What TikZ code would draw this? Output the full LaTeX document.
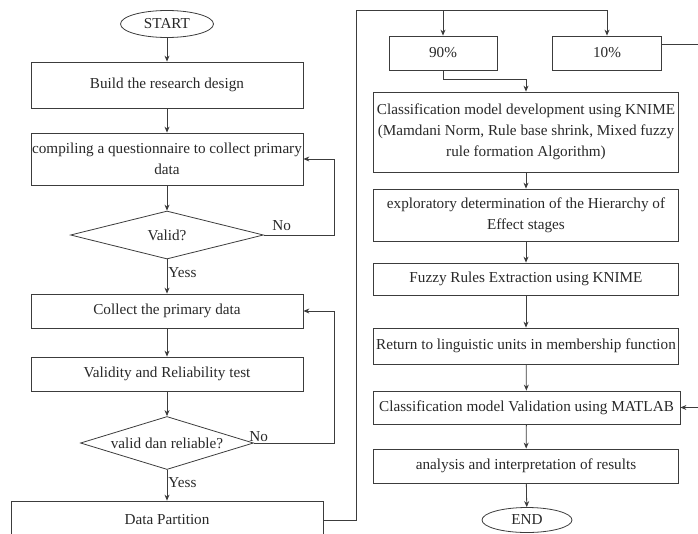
\documentclass[tikz,border=0pt]{standalone}
\usepackage{fontspec}
\setmainfont{Liberation Serif}
\usepackage{tikz}
\usetikzlibrary{positioning}
\usetikzlibrary{shapes.geometric}
\usetikzlibrary{arrows.meta}
\definecolor{ln}{RGB}{60, 60, 60}
\definecolor{tx}{RGB}{40, 40, 40}
\tikzset{
  procbox/.style={rectangle, draw=ln, line width=0.8pt, inner sep=0pt, align=center, text=tx, font=\fontsize{15.2}{21}\selectfont},
  termbox/.style={ellipse, draw=ln, line width=0.8pt, inner sep=0pt, text=tx, font=\fontsize{15.2}{21}\selectfont},
  testbox/.style={diamond, draw=ln, line width=0.8pt, inner sep=0pt, aspect=4, text=tx, font=\fontsize{15.2}{21}\selectfont},
  flow/.style={draw=ln, line width=0.8pt, -{Stealth[length=6pt, width=5pt]}},
  tag/.style={text=tx, font=\fontsize{15.2}{17}\selectfont, inner sep=1pt}
}
\begin{document}
\begin{tikzpicture}
\clip (0pt, 0pt) rectangle (698pt, -533pt);
% left column
\node (start) [termbox, minimum width=93pt, minimum height=27pt] at (167pt, -24pt) {START};
\node (design) [procbox, minimum width=272pt, minimum height=46pt] at (167pt, -85pt) {Build the research design};
\node (quest) [procbox, minimum width=272pt, minimum height=52pt] at (167pt, -159pt) {compiling a questionnaire to collect primary\\data};
\node (valid) [testbox, minimum width=193pt, minimum height=48pt] at (167pt, -235pt) {Valid?};
\node (collect) [procbox, minimum width=272pt, minimum height=34pt] at (167pt, -311pt) {Collect the primary data};
\node (test) [procbox, minimum width=272pt, minimum height=34pt] at (167pt, -374pt) {Validity and Reliability test};
\node (relia) [testbox, minimum width=173pt, minimum height=53pt] at (167pt, -443pt) {valid dan reliable?};
\node (part) [procbox, minimum width=312pt, minimum height=38pt] at (167pt, -520pt) {Data Partition};
% right column
\coordinate (top) at (356pt, -10pt);
\node (ninety) [procbox, minimum width=108pt, minimum height=34pt] at (443pt, -53pt) {90\%};
\node (ten) [procbox, minimum width=109pt, minimum height=34pt] at (607pt, -53pt) {10\%};
\node (knime) [procbox, minimum width=305pt, minimum height=80pt] at (526pt, -132pt) {Classification model development using KNIME\\(Mamdani Norm, Rule base shrink, Mixed fuzzy\\rule formation Algorithm)};
\node (hoe) [procbox, minimum width=305pt, minimum height=52pt] at (526pt, -215pt) {exploratory determination of the Hierarchy of\\Effect stages};
\node (rules) [procbox, minimum width=305pt, minimum height=32pt] at (526pt, -279pt) {Fuzzy Rules Extraction using KNIME};
\node (ling) [procbox, minimum width=305pt, minimum height=36pt] at (526pt, -346pt) {Return to linguistic units in membership function};
\node (matlab) [procbox, minimum width=307pt, minimum height=33pt] at (526.5pt, -407.5pt) {Classification model Validation using MATLAB};
\node (result) [procbox, minimum width=305pt, minimum height=34pt] at (526pt, -466pt) {analysis and interpretation of results};
\node (end) [termbox, minimum width=90pt, minimum height=25pt] at (527pt, -520pt) {END};
% connectors
\draw [flow] (start) -- (design);
\draw [flow] (design) -- (quest);
\draw [flow] (quest) -- (valid);
\draw [flow] (valid) -- node[tag, right, pos=0.4] {Yess} (collect);
\draw [flow] (valid.east) -- node[tag, above right, pos=0.1, yshift=3pt] {No} ++(70pt, 0) |- (quest.east);
\draw [flow] (collect) -- (test);
\draw [flow] (test) -- (relia);
\draw [flow] (relia) -- node[tag, right, pos=0.4] {Yess} (part);
\draw [flow] (relia.east) -- node[tag, above, pos=0.06] {No} ++(80pt, 0) |- (collect.east);
\draw [flow] (part.east) -| (top) -| (ten.north);
\draw [flow] (ninety.north |- top) -- (ninety.north);
\draw [flow] (ninety.south) -- ++(0, -9pt) -| (knime.north);
\draw [flow] (knime) -- (hoe);
\draw [flow] (hoe) -- (rules);
\draw [flow] (rules) -- (ling);
\draw [flow] (ling) -- (matlab);
\draw [flow] ([yshift=9pt]ten.east) -- ++(45pt, 0) |- (matlab.east);
\draw [flow] (matlab) -- (result);
\draw [flow] (result) -- (end);
\end{tikzpicture}
\end{document}
